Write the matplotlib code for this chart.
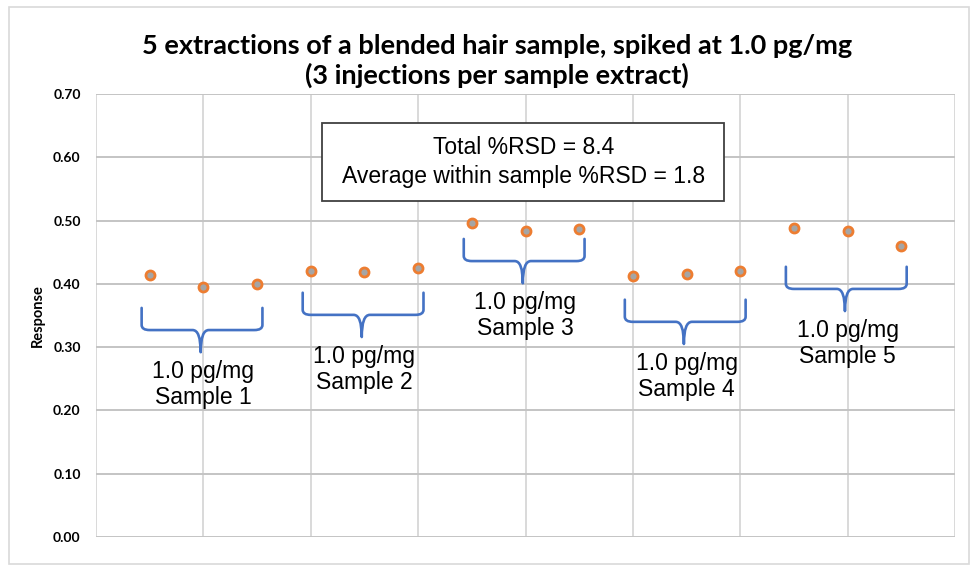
import numpy as np
import matplotlib
matplotlib.use('Agg')
import matplotlib.pyplot as plt
from matplotlib.path import Path
from matplotlib.patches import PathPatch, Rectangle

# Dados: 5 extrações x 3 injeções
injecao = np.arange(1, 16)
resposta = [0.414, 0.395, 0.400,
            0.420, 0.419, 0.425,
            0.496, 0.484, 0.487,
            0.413, 0.416, 0.421,
            0.489, 0.484, 0.460]
amostras = ['Sample 1', 'Sample 2', 'Sample 3', 'Sample 4', 'Sample 5']
concentracao = '1.0 pg/mg'
# topo de cada chave (anotação)
chave_topo = [0.362, 0.386, 0.471, 0.375, 0.427]

titulo = '5 extractions of a blended hair sample, spiked at 1.0 pg/mg\n(3 injections per sample extract)'
caixa_texto = 'Total %RSD = 8.4\nAverage within sample %RSD = 1.8'

W, H = 972, 565
fig = plt.figure(figsize=(W / 100, H / 100), dpi=100)

# borda externa do gráfico
fig.patches.append(Rectangle((9 / W, 1 - 564 / H), 960 / W, 557 / H,
                             transform=fig.transFigure, fill=False,
                             edgecolor='#D9D9D9', lw=1.2, zorder=-1))

ax = fig.add_axes([96 / W, 1 - 537 / H, 859 / W, 443 / H])
ax.set_xlim(0, 16)
ax.set_ylim(0, 0.70)
ax.set_xticks(np.arange(0, 17, 2))
ax.set_yticks(np.arange(0, 0.71, 0.1))
ax.set_yticklabels([f'{v:.2f}' for v in np.arange(0, 0.71, 0.1)],
                   fontfamily='Lato', fontweight='bold', fontsize=10)
ax.tick_params(axis='x', labelbottom=False, length=0)
ax.tick_params(axis='y', length=0, pad=11)
for s in ax.spines.values():
    s.set_visible(False)
ax.grid(axis='x', color='#D9D9D9', lw=1.4)
ax.grid(axis='y', color='#C4C4C4', lw=1.4)
ax.set_axisbelow(True)

ax.set_ylabel('Response', fontfamily='Lato', fontweight='bold', fontsize=10.5, labelpad=6)

ax.plot(injecao, resposta, 'o', markersize=6.5, markerfacecolor='#A5A5A5',
        markeredgecolor='#ED7D31', markeredgewidth=2.0, linestyle='none', zorder=3)

# chaves e rótulos
def chave(x0, x1, xm, ytop, altura=0.035, rx=0.15, ry=0.008):
    yh = ytop - altura
    ytip = yh - altura
    verts = [(x0, ytop), (x0, yh + ry), (x0, yh), (x0 + rx, yh),
             (xm - rx, yh), (xm, yh), (xm, ytip),
             (xm, yh), (xm + rx, yh),
             (x1 - rx, yh), (x1, yh), (x1, yh + ry), (x1, ytop)]
    codes = [Path.MOVETO, Path.LINETO, Path.CURVE3, Path.CURVE3,
             Path.LINETO, Path.CURVE3, Path.CURVE3,
             Path.CURVE3, Path.CURVE3,
             Path.LINETO, Path.CURVE3, Path.CURVE3, Path.LINETO]
    ax.add_patch(PathPatch(Path(verts, codes), fill=False, edgecolor='#4472C4',
                           lw=1.9, capstyle='round', joinstyle='round', zorder=2))
    return ytip

for i, nome in enumerate(amostras):
    xs = injecao[3 * i:3 * i + 3]
    ytip = chave(xs[0] - 0.15, xs[-1] + 0.1, xs[1] - 0.05, chave_topo[i])
    ax.text(xs[1], ytip - 0.012, f'{concentracao}\n{nome}', ha='center', va='top',
            fontfamily='Liberation Sans', fontsize=16.5, linespacing=1.2, zorder=4)

# caixa de texto com os %RSD
fig.patches.append(Rectangle((322 / W, 1 - 201 / H), 402 / W, 78 / H,
                             transform=fig.transFigure, facecolor='white',
                             edgecolor='#404040', lw=1.3, zorder=5))
fig.text(524 / W, 1 - 162 / H, caixa_texto, ha='center', va='center',
         fontfamily='Liberation Sans', fontsize=16.5, linespacing=1.32, zorder=6)

fig.text(497 / W, 1 - 61 / H, titulo, ha='center', va='center',
         fontfamily='Lato', fontweight='bold', fontsize=19.5, linespacing=1.22)

fig.savefig('out.png', dpi=100)
